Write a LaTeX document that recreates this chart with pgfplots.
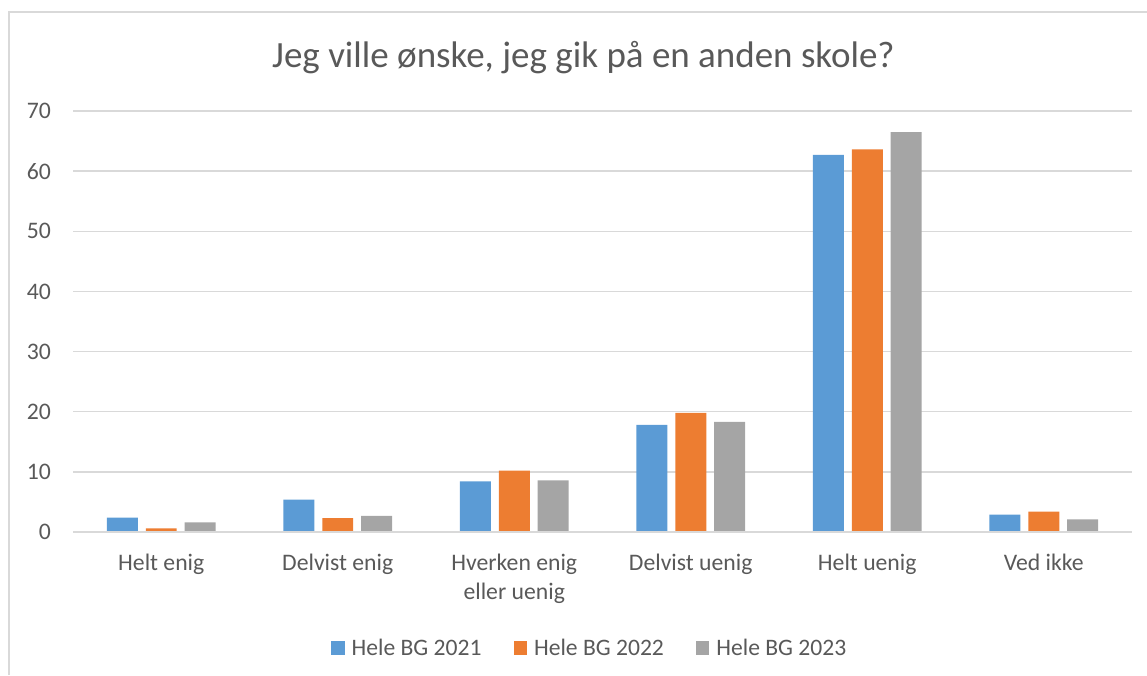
\documentclass[border=0pt]{standalone}
\usepackage{pgfplots}
\pgfplotsset{compat=1.18}
\usepackage{fontspec}
\setmainfont{Carlito}
\definecolor{cblue}{HTML}{5B9BD5}
\definecolor{corange}{HTML}{ED7D31}
\definecolor{cgray}{HTML}{A5A5A5}
\definecolor{ctext}{HTML}{595959}
\definecolor{cgrid}{HTML}{D9D9D9}
\begin{document}
\begin{tikzpicture}
\path[use as bounding box] (0pt,0pt) rectangle (1147pt,675pt);
\draw[cgrid, line width=1.5pt] (9pt,0pt) -- (9pt,663pt) -- (1147pt,663pt);
\begin{axis}[
  at={(73pt,143pt)}, anchor=south west,
  scale only axis, width=1059pt, height=421pt,
  xmin=-0.5, xmax=5.5, ymin=0, ymax=70,
  ytick={0,10,...,70},
  xtick={0,1,2,3,4,5},
  xticklabels={Helt enig,Delvist enig,{Hverken enig\\eller uenig},Delvist uenig,Helt uenig,Ved ikke},
  axis line style={draw=none},
  axis x line*=bottom,
  major tick length=0pt,
  ymajorgrids, grid style={cgrid, line width=1.3pt},
  /pgf/number format/assume math mode=true,
  tick label style={font=\fontsize{23.7}{28.5}\selectfont, text=ctext},
  yticklabel style={anchor=east, inner sep=0pt, xshift=-22pt},
  xticklabel style={anchor=north, inner sep=0pt, yshift=-22pt, align=center},
  title={Jeg ville ønske, jeg gik på en anden skole?},
  title style={at={(0.482,1.09)}, anchor=base, inner sep=0pt, font=\fontsize{37}{44}\selectfont, text=ctext},
  legend columns=3,
  legend style={at={(0.487,-0.2755)}, anchor=center, draw=none, fill=none,
    font=\fontsize{23.6}{28}\selectfont, text=ctext,
    nodes={inner sep=0pt},
    /tikz/every odd column/.append style={column sep=7pt},
    /tikz/every even column/.append style={column sep=32pt}},
  legend image code/.code={\fill[#1] (0pt,-6.75pt) rectangle (13.5pt,6.75pt);},
  clip=false,
]
\addplot[ybar, bar width=0.1756, bar shift=-0.2204, fill=cblue, draw=none] coordinates {(0,2.4) (1,5.4) (2,8.4) (3,17.8) (4,62.7) (5,2.9)};
\addlegendentry{Hele BG 2021}
\addplot[ybar, bar width=0.1756, bar shift=0, fill=corange, draw=none] coordinates {(0,0.6) (1,2.3) (2,10.2) (3,19.8) (4,63.6) (5,3.4)};
\addlegendentry{Hele BG 2022}
\addplot[ybar, bar width=0.1756, bar shift=0.2204, fill=cgray, draw=none] coordinates {(0,1.6) (1,2.7) (2,8.6) (3,18.3) (4,66.5) (5,2.1)};
\addlegendentry{Hele BG 2023}
\draw[cgrid, line width=1.3pt] (axis cs:-0.5,0) -- (axis cs:5.5,0);
\end{axis}
\end{tikzpicture}
\end{document}
